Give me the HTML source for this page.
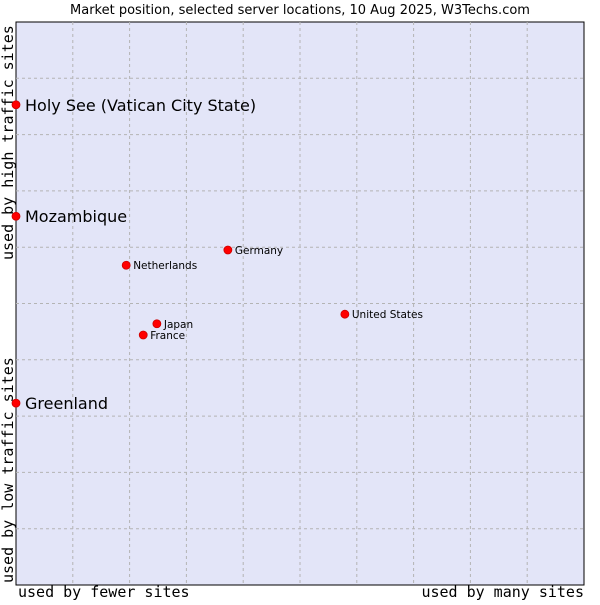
<!DOCTYPE html>
<html><head><meta charset="utf-8"><style>
body{margin:0;background:#fff;width:600px;height:600px;overflow:hidden}
svg text{font-family:"DejaVu Sans","Liberation Sans",sans-serif}
svg text.mono{font-family:"DejaVu Sans Mono","Liberation Mono",monospace}
</style></head><body>
<svg id="chart" width="600" height="600" xmlns="http://www.w3.org/2000/svg">
<text x="300" y="14" text-anchor="middle" font-size="13" fill="#000">Market position, selected server locations, 10 Aug 2025, W3Techs.com</text>
<rect x="16" y="22" width="568" height="563" fill="#e3e5f8" stroke="#000" stroke-width="1"/>
<g id="grid"></g>
<text class="mono" x="18" y="597" font-size="15">used by fewer sites</text>
<text class="mono" x="584" y="597" text-anchor="end" font-size="15">used by many sites</text>
<text class="mono" transform="translate(13,583) rotate(-90)" font-size="15">used by low traffic sites</text>
<text class="mono" transform="translate(13,260) rotate(-90)" font-size="15">used by high traffic sites</text>
<g id="points"></g>
</svg>
<script>
const names=["Holy See (Vatican City State)","Mozambique","Greenland","Germany","Netherlands","United States","Japan","France"];
const xVals=[0,0,0,37.3,19.4,57.9,24.8,22.4];
const yVals=[85.3,65.5,32.3,59.5,56.8,48.1,46.4,44.4];
const bigLabel=[true,true,true,false,false,false,false,false];
const ns="http://www.w3.org/2000/svg";
const X0=16,W=568,Y0=585,H=563;
const sx=v=>X0+v/100*W, sy=v=>Y0-v/100*H;
const grid=document.getElementById('grid');
for(let i=1;i<10;i++){
  const l=document.createElementNS(ns,'line');
  
  
  l.setAttribute('x1',sx(i*10));l.setAttribute('x2',sx(i*10));l.setAttribute('y1',22);l.setAttribute('y2',585);
  l.setAttribute('stroke','#b4b4b4');l.setAttribute('stroke-dasharray','3,3');grid.appendChild(l);
  const h=document.createElementNS(ns,'line');
  
  
  h.setAttribute('y1',sy(i*10));h.setAttribute('y2',sy(i*10));h.setAttribute('x1',16);h.setAttribute('x2',584);
  h.setAttribute('stroke','#b4b4b4');h.setAttribute('stroke-dasharray','3,3');grid.appendChild(h);
}
const pts=document.getElementById('points');
names.forEach((n,i)=>{
  const x=sx(xVals[i]),y=sy(yVals[i]);
  const p=document.createElementNS(ns,'circle');
  
  
  p.setAttribute('cx',x);p.setAttribute('cy',y);p.setAttribute('r',4);
  p.setAttribute('fill','#f00');p.setAttribute('stroke','#c00');p.setAttribute('stroke-width','0.8');pts.appendChild(p);
  const t=document.createElementNS(ns,'text');
  
  
  t.setAttribute('x',x+(bigLabel[i]?9:7));t.setAttribute('y',y+(bigLabel[i]?6:4));
  t.setAttribute('font-size',bigLabel[i]?16:10.5);
  t.textContent=n;pts.appendChild(t);
});
</script>
</body></html>
